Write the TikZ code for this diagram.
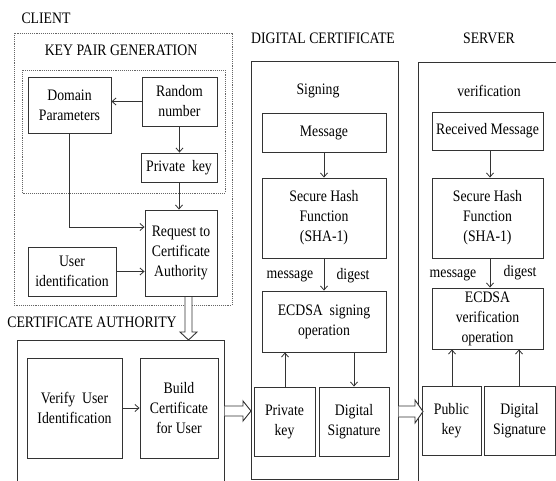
\documentclass[tikz,border=0pt]{standalone}
\usepackage{fontspec}
\setmainfont[FakeStretch=0.86]{Liberation Serif}
\usetikzlibrary{arrows.meta,shadows}
\definecolor{ln}{HTML}{333333}
\tikzset{
  box/.style={draw=ln, line width=0.9pt, fill=white, align=center, inner sep=1pt,
    font=\fontsize{16}{20}\selectfont,
    drop shadow={shadow xshift=1.2pt, shadow yshift=-1.2pt, opacity=0.35, fill=black}},
  lbl/.style={font=\fontsize{16}{20}\selectfont, inner sep=0pt},
  dotbox/.style={draw=gray!80!black, densely dotted, line width=0.9pt},
  frame/.style={draw=ln, line width=0.9pt},
  arr/.style={draw=ln, line width=0.8pt, -{Straight Barb[length=4pt,width=7pt]}},
  hollow/.style={draw=ln, line width=0.9pt, fill=white, line join=miter}
}
\begin{document}
\begin{tikzpicture}[x=1pt,y=-1pt]
\useasboundingbox (0,0) rectangle (556,480);
% containers
\draw[dotbox] (14,33) rectangle (232,305);
\draw[dotbox] (22,70) rectangle (225,193);
\draw[frame] (17,481) -- (17,340) -- (224,340) -- (224,481);
\draw[frame] (251,61) rectangle (398,479);
\draw[frame] (418,481) -- (418,62) -- (558,62);
% titles
\node[lbl] (tclient) at (46,18) {CLIENT};
\node[lbl] (tkpg) at (121,50) {KEY PAIR GENERATION};
\node[lbl] (tca) at (92,322) {CERTIFICATE AUTHORITY};
\node[lbl] (tdc) at (323,38) {DIGITAL CERTIFICATE};
\node[lbl] (tsrv) at (489,38) {SERVER};
\node[lbl] (tsign) at (318,91) {Signing};
\node[lbl] (tver) at (489,91) {verification};
% client boxes
\node[box, minimum width=83, minimum height=56] (dp) at (69.5,105) {Domain\\Parameters};
\node[box, minimum width=75, minimum height=49] (rn) at (179.5,101.5) {Random\\number};
\node[box, minimum width=76, minimum height=29] (pk) at (179,167.5) {Private\ \ key};
\node[box, minimum width=72, minimum height=86] (req) at (181,253) {Request to\\Certificate\\Authority};
\node[box, minimum width=88, minimum height=49] (uid) at (72,271.5) {User\\identification};
% CA boxes
\node[box, minimum width=95, minimum height=100] (vui) at (74.5,408) {Verify\ \ User\\Identification};
\node[box, minimum width=78, minimum height=100] (bc) at (179,408) {Build\\Certificate\\for User};
% DC boxes
\node[box, minimum width=124, minimum height=39] (msg) at (324,132.5) {Message};
\node[box, minimum width=124, minimum height=80] (sha1) at (324,218) {Secure Hash\\Function\\(SHA-1)};
\node[box, minimum width=124, minimum height=61] (ecs) at (324,321.5) {ECDSA\ \ signing\\operation};
\node[box, minimum width=61, minimum height=69] (pk2) at (284.5,421.5) {Private\\key};
\node[box, minimum width=70, minimum height=69] (ds1) at (354,421.5) {Digital\\Signature};
% server boxes
\node[box, minimum width=111, minimum height=38] (rm) at (487.5,131) {Received\ Message};
\node[box, minimum width=111, minimum height=80] (sha2) at (487.5,218) {Secure Hash\\Function\\(SHA-1)};
\node[box, minimum width=111, minimum height=61] (ecv) at (487.5,318.5) {ECDSA\\verification\\operation};
\node[box, minimum width=59, minimum height=69] (pub) at (451.5,420.5) {Public\\key};
\node[box, minimum width=71, minimum height=69] (ds2) at (519.5,420.5) {Digital\\Signature};
% labels
\node[lbl] (m1) at (290,276) {message};
\node[lbl] (d1) at (353,276) {digest};
\node[lbl] (m2) at (453,275) {message};
\node[lbl] (d2) at (520,273) {digest};
% connectors
\draw[arr] (rn.west) -- (dp.east |- rn.west);
\draw[arr] (rn.south) -- (pk.north -| rn.south);
\draw[arr] (pk.south) -- (req.north -| pk.south);
\coordinate (dpturn) at (dp.south |- 0,227);
\draw[arr] (dp.south) -- (dpturn) -- (req.west |- dpturn);
\draw[arr] (uid.east) -- (req.west |- uid.east);
\draw[arr] (vui.east) -- (bc.west);
\draw[arr] (msg.south) -- (sha1.north);
\draw[arr] (sha1.south) -- (ecs.north);
\coordinate (pkx) at (285,0);
\coordinate (dsx) at (354,0);
\draw[arr] (pk2.north -| pkx) -- (ecs.south -| pkx);
\draw[arr] (ecs.south -| dsx) -- (ds1.north -| dsx);
\coordinate (svx) at (490,0);
\draw[arr] (rm.south -| svx) -- (sha2.north -| svx);
\draw[arr] (sha2.south -| svx) -- (ecv.north -| svx);
\coordinate (pbx) at (452,0);
\coordinate (d2x) at (519,0);
\draw[arr] (pub.north -| pbx) -- (ecv.south -| pbx);
\draw[arr] (ds2.north -| d2x) -- (ecv.south -| d2x);
% hollow block arrows
\draw[hollow] (185,297) -- (185,332) -- (180,332) -- (188.5,340) -- (197,332) -- (192,332) -- (192,297);
\draw[hollow] (224.5,406) -- (243,406) -- (243,401) -- (251,411) -- (243,421) -- (243,416) -- (224.5,416);
\draw[hollow] (398.5,406) -- (415,406) -- (415,400) -- (423,411.5) -- (415,423) -- (415,417) -- (398.5,417);
\end{tikzpicture}
\end{document}
